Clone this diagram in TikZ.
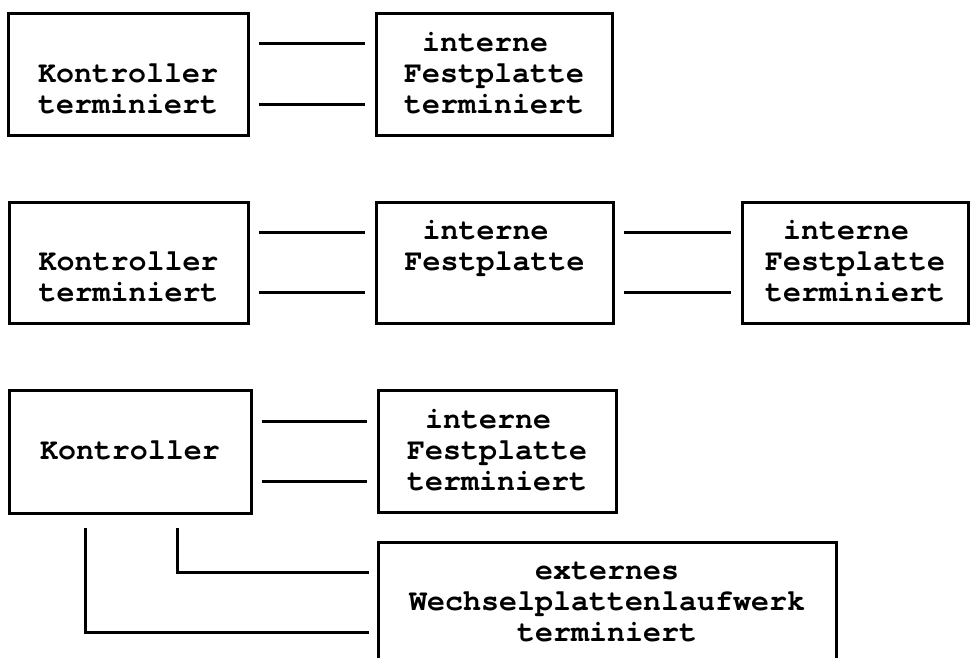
\documentclass[tikz,border=0pt]{standalone}
\usepackage{fontspec}
\setmonofont{texgyrecursor}[Extension=.otf, UprightFont=*-regular, BoldFont=*-bold]
\newcommand\mystrut{\vrule height 23pt depth 7pt width 0pt\relax}
\begin{document}
\begin{tikzpicture}[x=1pt,y=-1pt,
  box/.style={draw,line width=3pt,inner sep=0pt,align=center,
    font=\ttfamily\bfseries\fontsize{30}{29.5}\selectfont},
  conn/.style={line width=3pt},
  gap/.style={shorten <=9pt,shorten >=10pt}]
\useasboundingbox (0,0) rectangle (970,657);
\fill[white] (0,0) rectangle (970,657);
% row 1
\node[box,minimum width=240pt,minimum height=122pt] (k1) at (128,74)
  {\mystrut\\\mystrut Kontroller\\\mystrut terminiert};
\node[box,minimum width=236pt,minimum height=122pt] (d1) at (494,74)
  {\mystrut interne\hphantom{x}\\\mystrut Festplatte\\\mystrut terminiert};
\draw[conn,gap] ([yshift=31pt]k1.east) -- ([yshift=31pt]d1.west);
\draw[conn,gap] ([yshift=-30pt]k1.east) -- ([yshift=-30pt]d1.west);
% row 2
\node[box,minimum width=239pt,minimum height=121pt] (k2) at (128.5,262.5)
  {\mystrut\\\mystrut Kontroller\\\mystrut terminiert};
\node[box,minimum width=237pt,minimum height=121pt] (d2) at (494.5,262.5)
  {\mystrut interne\hphantom{x}\\\mystrut Festplatte\\\mystrut};
\node[box,minimum width=226pt,minimum height=121pt] (t2) at (855,262.5)
  {\mystrut interne\hphantom{x}\\\mystrut Festplatte\\\mystrut terminiert};
\draw[conn,gap] ([yshift=30.5pt]k2.east) -- ([yshift=30.5pt]d2.west);
\draw[conn,gap] ([yshift=-29.5pt]k2.east) -- ([yshift=-29.5pt]d2.west);
\draw[conn,gap] ([yshift=30.5pt]d2.east) -- ([yshift=30.5pt]t2.west);
\draw[conn,gap] ([yshift=-29.5pt]d2.east) -- ([yshift=-29.5pt]t2.west);
% row 3
\node[box,minimum width=242pt,minimum height=123pt] (k3) at (130,451.5)
  {\mystrut Kontroller};
\node[box,minimum width=238pt,minimum height=122pt] (d3) at (497,451.5)
  {\mystrut interne\hphantom{x}\\\mystrut Festplatte\\\mystrut terminiert};
\node[box,minimum width=458pt,minimum height=120pt] (ext) at (607,602)
  {\mystrut externes\\\mystrut Wechselplattenlaufwerk\\\mystrut terminiert};
\draw[conn,gap] ([yshift=30.5pt]k3.east) -- ([yshift=30.5pt]d3.west);
\draw[conn,gap] ([yshift=-29.5pt]k3.east) -- ([yshift=-29.5pt]d3.west);
\draw[conn,shorten >=8pt] ([xshift=47pt,yshift=-13pt]k3.south) |- ([yshift=30pt]ext.west);
\draw[conn,shorten >=8pt] ([xshift=-45pt,yshift=-13pt]k3.south) |- ([yshift=-30pt]ext.west);
\end{tikzpicture}
\end{document}
